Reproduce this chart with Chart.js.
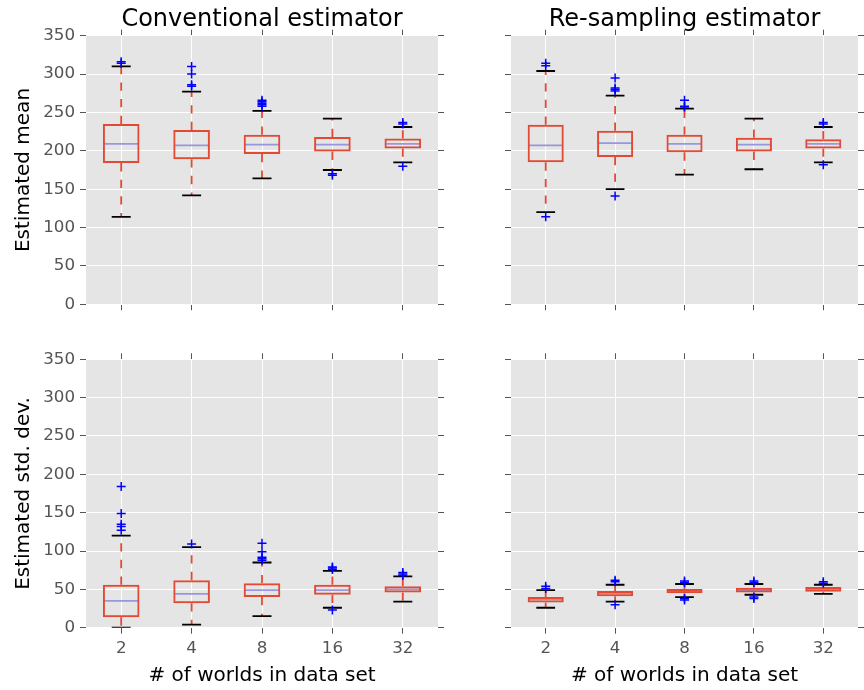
<!DOCTYPE html>
<html>
<head>
<meta charset="utf-8">
<script src="https://cdn.jsdelivr.net/npm/chart.js@4.4.1/dist/chart.umd.min.js"></script>
<style>
  html, body { margin: 0; padding: 0; background: #fff; }
  #fig { position: relative; width: 864px; height: 690px; overflow: hidden; }
  #fig canvas { position: absolute; }
</style>
</head>
<body>
<div id="fig">
  <canvas id="convMean" width="450" height="332" style="left:0;top:0"></canvas>
  <canvas id="resMean" width="414" height="332" style="left:450px;top:0"></canvas>
  <canvas id="convStd" width="450" height="358" style="left:0;top:332px"></canvas>
  <canvas id="resStd" width="414" height="358" style="left:450px;top:332px"></canvas>
</div>
<script>
// categorie (# of worlds) e ticks
const categories = ['2', '4', '8', '16', '32'];
const yTicks = [0, 50, 100, 150, 200, 250, 300, 350];

// Conventional estimator - estimated mean
const convMeanLow  = [114, 142, 164, 175, 185];
const convMeanQ1   = [184, 189, 196, 199, 203];
const convMeanMed  = [209, 207, 208, 208, 209];
const convMeanQ3   = [235, 227, 221, 218, 216];
const convMeanHigh = [310, 277, 252, 242, 231];
const convMeanOut  = [[314, 316], [284, 286, 300, 310], [258, 260, 262, 264, 266], [168, 170], [180, 235, 237]];

// Re-sampling estimator - estimated mean
const resMeanLow  = [120, 150, 169, 176, 185];
const resMeanQ1   = [185, 192, 198, 199, 203];
const resMeanMed  = [207, 210, 209, 208, 209];
const resMeanQ3   = [234, 226, 221, 217, 215];
const resMeanHigh = [304, 272, 255, 242, 231];
const resMeanOut  = [[114, 311, 314], [141, 278, 280, 282, 295], [257, 258, 266], [], [182, 235, 237]];

// Conventional estimator - estimated std. dev.
const convStdLow  = [0, 4, 15, 26, 34];
const convStdQ1   = [13.5, 32, 40, 43, 46];
const convStdMed  = [35, 44, 49, 49, 50];
const convStdQ3   = [56, 62, 58, 56, 54];
const convStdHigh = [120, 105, 85, 74, 67];
const convStdOut  = [[127, 132, 135, 149, 184], [109], [88, 90, 92, 99, 110], [23, 76, 78, 79], [68, 70, 72]];

// Re-sampling estimator - estimated std. dev.
const resStdLow  = [26, 34, 40, 43, 44];
const resStdQ1   = [33, 41, 45, 46, 47];
const resStdMed  = [37, 45, 47.5, 49, 50];
const resStdQ3   = [40, 48, 50.5, 52, 53];
const resStdHigh = [49, 56, 57, 57, 56];
const resStdOut  = [[51, 54], [30, 60, 62], [36, 38, 59, 61], [38, 40, 59, 61], [58, 60]];

Chart.defaults.font.family = "'DejaVu Sans', sans-serif";
Chart.defaults.color = '#555';

const RED = '#E24A33';
const MEDIAN = '#9896DC';

// fundo cinza + mediana, bigodes e caps desenhados com as escalas do chart
function boxParts(low, med, high, q1, q3) {
  return {
    id: 'boxParts',
    beforeDraw(chart) {
      const a = chart.chartArea, ctx = chart.ctx;
      ctx.save();
      ctx.fillStyle = '#E5E5E5';
      ctx.fillRect(a.left, a.top, a.right - a.left, a.bottom - a.top);
      ctx.restore();
    },
    beforeDatasetsDraw(chart) {
      const x = chart.scales.x, y = chart.scales.y, ctx = chart.ctx;
      const a = chart.chartArea;
      const cat = x.getPixelForValue(1) - x.getPixelForValue(0);
      const half = cat * 0.25, capHalf = cat * 0.135;
      ctx.save();
      // recorta na área do gráfico, como no matplotlib
      ctx.beginPath();
      ctx.rect(a.left, a.top, a.right - a.left, a.bottom - a.top);
      ctx.clip();
      categories.forEach((c, i) => {
        const px = x.getPixelForValue(i);
        // bigodes tracejados
        ctx.strokeStyle = RED;
        ctx.lineWidth = 1.8;
        ctx.setLineDash([8.3, 8.3]);
        ctx.beginPath();
        ctx.moveTo(px, y.getPixelForValue(q3[i]));
        ctx.lineTo(px, y.getPixelForValue(high[i]));
        ctx.moveTo(px, y.getPixelForValue(q1[i]));
        ctx.lineTo(px, y.getPixelForValue(low[i]));
        ctx.stroke();
        ctx.setLineDash([]);
        // caps
        ctx.strokeStyle = '#000';
        ctx.lineWidth = 1.8;
        ctx.beginPath();
        [low[i], high[i]].forEach(v => {
          const py = y.getPixelForValue(v);
          ctx.moveTo(px - capHalf, py);
          ctx.lineTo(px + capHalf, py);
        });
        ctx.stroke();
        // mediana
        ctx.strokeStyle = MEDIAN;
        ctx.lineWidth = 1.8;
        ctx.beginPath();
        const pm = y.getPixelForValue(med[i]);
        ctx.moveTo(px - half, pm);
        ctx.lineTo(px + half, pm);
        ctx.stroke();
      });
      ctx.restore();
    }
  };
}

function makePanel(id, d) {
  const outPoints = [];
  d.out.forEach((vals, i) => vals.forEach(v => outPoints.push({ x: categories[i], y: v })));
  const tickGrid = { color: '#fff', lineWidth: 1, tickColor: '#555', tickWidth: 1, tickLength: 6 };
  return new Chart(document.getElementById(id), {
    type: 'bar',
    data: {
      labels: categories,
      datasets: [{
        type: 'line',
        data: outPoints,
        showLine: false,
        pointStyle: 'cross',
        pointRadius: 4.5,
        pointBorderWidth: 1.5,
        pointBorderColor: '#0000ff',
        pointBackgroundColor: 'rgba(0,0,0,0)'
      }, {
        data: d.q1.map((v, i) => [v, d.q3[i]]),
        backgroundColor: 'rgba(0,0,0,0)',
        borderColor: RED,
        borderWidth: 2,
        borderSkipped: false,
        barPercentage: 0.52,
        categoryPercentage: 1
      }]
    },
    options: {
      responsive: false,
      animation: false,
      events: [],
      layout: { padding: 0 },
      plugins: {
        legend: { display: false },
        tooltip: { enabled: false },
        title: {
          display: !!d.title,
          text: d.title,
          color: '#000',
          fullSize: false,
          font: { size: 24, weight: 'normal' },
          padding: { top: 5.6, bottom: 0 }
        }
      },
      scales: {
        x: {
          type: 'category',
          position: 'bottom',
          offset: true,
          grid: Object.assign({ offset: false }, tickGrid),
          border: { display: false },
          ticks: { display: d.xLabels, color: '#555', font: { size: 16.7 }, padding: 5, maxRotation: 0, autoSkip: false },
          title: { display: d.xLabels, text: '# of worlds in data set', color: '#000', font: { size: 20 }, padding: { top: 0, bottom: 2 } },
          afterFit: s => { s.height = d.xH; }
        },
        x2: {
          type: 'category',
          position: 'top',
          offset: true,
          grid: Object.assign({ offset: false, drawOnChartArea: false }, tickGrid),
          border: { display: false },
          ticks: { display: false },
          afterFit: s => { s.height = d.x2H; }
        },
        y: {
          type: 'linear',
          position: 'left',
          min: yTicks[0],
          max: yTicks[yTicks.length - 1],
          grid: tickGrid,
          border: { display: false },
          ticks: { display: !!d.yTitle, stepSize: 50, color: '#555', font: { size: 16.7 }, padding: 5 },
          title: { display: !!d.yTitle, text: d.yTitle, color: '#000', font: { size: 20 }, padding: { top: 11.7, bottom: 0 } },
          afterFit: s => { s.width = d.yW; }
        },
        y2: {
          type: 'linear',
          position: 'right',
          min: yTicks[0],
          max: yTicks[yTicks.length - 1],
          grid: Object.assign({ drawOnChartArea: false }, tickGrid),
          border: { display: false },
          ticks: { display: false, stepSize: 50 },
          afterFit: s => { s.width = d.y2W; }
        }
      }
    },
    plugins: [boxParts(d.low, d.med, d.high, d.q1, d.q3)]
  });
}

makePanel('convMean', {
  title: 'Conventional estimator', yTitle: 'Estimated mean', xLabels: false,
  low: convMeanLow, q1: convMeanQ1, med: convMeanMed, q3: convMeanQ3, high: convMeanHigh, out: convMeanOut,
  yW: 86, y2W: 12, x2H: 1.3, xH: 27.7
});
makePanel('resMean', {
  title: 'Re-sampling estimator', yTitle: '', xLabels: false,
  low: resMeanLow, q1: resMeanQ1, med: resMeanMed, q3: resMeanQ3, high: resMeanHigh, out: resMeanOut,
  yW: 61, y2W: 1.3, x2H: 1.3, xH: 27.7
});
makePanel('convStd', {
  title: '', yTitle: 'Estimated std. dev.', xLabels: true,
  low: convStdLow, q1: convStdQ1, med: convStdMed, q3: convStdQ3, high: convStdHigh, out: convStdOut,
  yW: 86, y2W: 12, x2H: 27.3, xH: 62.3
});
makePanel('resStd', {
  title: '', yTitle: '', xLabels: true,
  low: resStdLow, q1: resStdQ1, med: resStdMed, q3: resStdQ3, high: resStdHigh, out: resStdOut,
  yW: 61, y2W: 1.3, x2H: 27.3, xH: 62.3
});
</script>
</body>
</html>
